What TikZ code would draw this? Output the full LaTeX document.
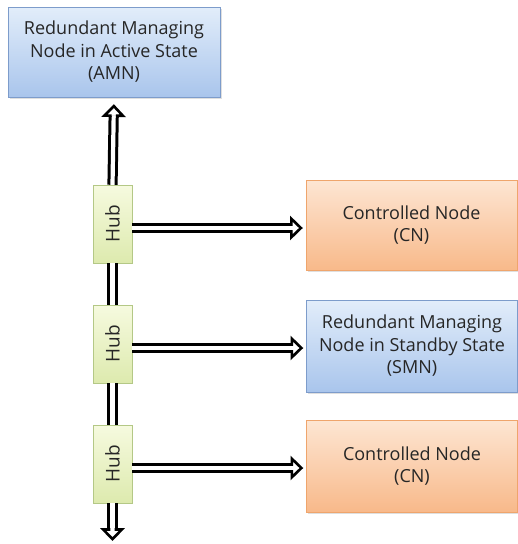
\documentclass[tikz,border=0pt]{standalone}
\usepackage{fontspec}
\setmainfont{Open Sans}
\usetikzlibrary{arrows.meta,shadows}
\definecolor{blueTop}{HTML}{E2EDFA}
\definecolor{blueBot}{HTML}{A9C5EC}
\definecolor{blueLine}{HTML}{7D9CCB}
\definecolor{orTop}{HTML}{FDE6D3}
\definecolor{orBot}{HTML}{F8B98A}
\definecolor{orLine}{HTML}{EFA56C}
\definecolor{hubTop}{HTML}{F6FADF}
\definecolor{hubBot}{HTML}{DDEAAE}
\definecolor{hubLine}{HTML}{B4C886}

% open head for the double bus lines: the white channel runs into it
\pgfdeclarearrow{
  name = BusHead,
  cache = false,
  setup code = {
    \pgfarrowssettipend{0pt}
    \pgfarrowssetlineend{-11.5pt}
    \pgfarrowssetvisualbackend{-12.8pt}
    \pgfarrowssetbackend{-12.8pt}
    \pgfarrowsupperhullpoint{-12.8pt}{11pt}
    \pgfarrowsupperhullpoint{0pt}{0pt}
  },
  drawing code = {
    \pgfsetlinewidth{2.6pt}
    \pgfsetmiterjoin
    \pgfsetbuttcap
    \pgfsetfillcolor{white}
    \pgfsetstrokecolor{black}
    \pgfpathmoveto{\pgfqpoint{-11.5pt}{2.1pt}}
    \pgfpathlineto{\pgfqpoint{-11.5pt}{9.3pt}}
    \pgfpathlineto{\pgfqpoint{-1.9pt}{0pt}}
    \pgfpathlineto{\pgfqpoint{-11.5pt}{-9.3pt}}
    \pgfpathlineto{\pgfqpoint{-11.5pt}{-2.1pt}}
    \pgfusepathqfillstroke
  }
}

\tikzset{
  mbox/.style={rectangle, minimum width=211pt, minimum height=90pt, align=center,
    font=\fontsize{18}{22.5}\selectfont, text=black!85, inner sep=2pt,
    drop shadow={shadow xshift=1.5pt, shadow yshift=-1.5pt, opacity=0.25}},
  managing/.style={mbox, draw=blueLine, top color=blueTop, bottom color=blueBot},
  controlled/.style={mbox, draw=orLine, top color=orTop, bottom color=orBot},
  hubbox/.style={rectangle, minimum width=39pt, minimum height=78pt, draw=hubLine,
    top color=hubTop, bottom color=hubBot, font=\fontsize{19}{21}\selectfont,
    inner sep=0pt, text=black!85,
    drop shadow={shadow xshift=1pt, shadow yshift=-1pt, opacity=0.2}},
  busline/.style={double=white, double distance=4.2pt, line width=3pt, draw=black},
  bus/.style={busline, -BusHead}
}
\begin{document}
\begin{tikzpicture}[x=1pt,y=-1pt]
\useasboundingbox[fill=white] (0,0) rectangle (518,544);

% managing node in active state
\node[managing, minimum width=212pt] (amn) at (114,52)
  {Redundant Managing\\Node in Active State\\(AMN)};

% hubs on the bus
\node[hubbox] (hub1) at (112.5,224) {\rotatebox{90}{Hub}};
\node[hubbox] (hub2) at (112.5,344) {\rotatebox{90}{Hub}};
\node[hubbox] (hub3) at (112.5,464) {\rotatebox{90}{Hub}};

% attached nodes
\node[controlled] (cn1) at (411.5,225) {Controlled Node\\(CN)};
\node[managing, minimum height=92pt] (smn) at (412,346)
  {Redundant Managing\\Node in Standby State\\(SMN)};
\node[controlled, minimum height=92pt] (cn2) at (412,466) {Controlled Node\\(CN)};

% bus segments between hubs
\draw[busline] (hub1.south) -- (hub2.north);
\draw[busline] (hub2.south) -- (hub3.north);

% bus ends
\draw[bus, shorten >=7pt] (hub1.north) -- (amn.south);
\coordinate (busend) at (112.5,541);
\draw[bus] (hub3.south) -- (busend);

% hub outputs
\coordinate (o1) at (hub1.east |- 0,228);
\coordinate (o2) at (hub2.east |- 0,348);
\coordinate (o3) at (hub3.east |- 0,468);
\draw[bus, shorten >=3pt] (o1) -- (o1 -| cn1.west);
\draw[bus, shorten >=3pt] (o2) -- (o2 -| smn.west);
\draw[bus, shorten >=3pt] (o3) -- (o3 -| cn2.west);
\end{tikzpicture}
\end{document}
